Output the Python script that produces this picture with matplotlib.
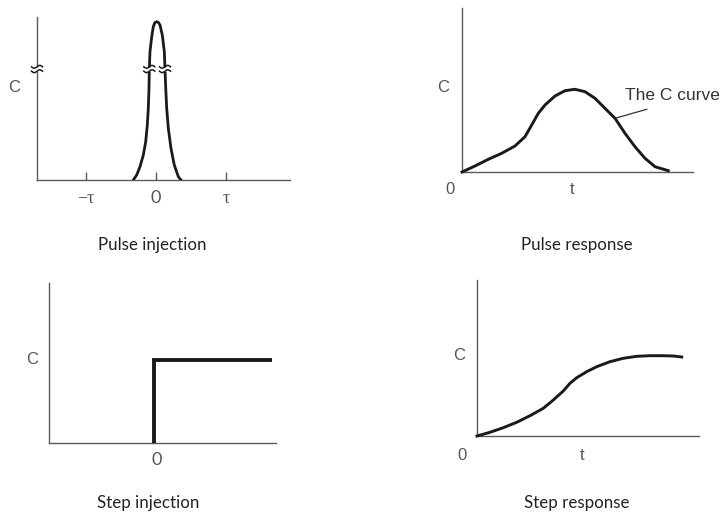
import numpy as np
import matplotlib
matplotlib.use("Agg")
import matplotlib.pyplot as plt
import matplotlib.transforms as mtransforms

# ---------------- data ----------------
# Pulse injection (x in units of tau, y arbitrary)
pulse_x = [-0.324, -0.276, -0.229, -0.181, -0.147, -0.124, -0.110, -0.100, -0.096, -0.086,
           -0.061, -0.039, -0.015, 0.010, 0.035, 0.057, 0.090, 0.119, 0.129, 0.139,
           0.153, 0.176, 0.214, 0.261, 0.319, 0.357]
pulse_y = [0, 5, 13.3, 25, 38.3, 55, 71.7, 91.7, 110, 128.3,
           143.3, 153.3, 157.5, 158.3, 157.5, 155, 145, 128.3, 110, 91.7,
           71.7, 51.7, 31.7, 15, 3.3, 0]
pulse_ticks = [-1, 0, 1]
pulse_ticklabels = ["\u2212\u03c4", "0", "\u03c4"]

# Pulse response (C curve)
presp_x = [0, 13, 26.3, 39.7, 53, 63, 69.7, 76.3, 83, 93, 103, 113, 123, 133, 143, 153,
           163, 173, 183, 193, 206.3]
presp_y = [0, 6, 12.7, 18.7, 26, 35.3, 47, 58.7, 67, 76, 81.3, 82.7, 80.3, 73.7, 63.7, 53.7,
           38.7, 25.3, 13.7, 5.3, 1.3]

# Step injection
step_x = [0, 0, 118]
step_y = [0, 83, 83]

# Step response
sresp_x = [0, 13, 26.3, 39.7, 53, 66.3, 76.3, 86.3, 93, 99.7, 109.7, 119.7, 133, 146.3,
           159.7, 173, 186.3, 196.3, 204.7]
sresp_y = [0, 3.7, 8.3, 13.7, 20.3, 27.7, 36, 45, 52.7, 58.3, 64.3, 69.3, 74.3, 77.7,
           79.7, 80.3, 80.3, 80, 79]

titles = ["Pulse injection", "Pulse response", "Step injection", "Step response"]

# ---------------- figure ----------------
W, H = 726, 518
fig = plt.figure(figsize=(W / 100, H / 100), dpi=100)

AX_COLOR = "#5a5a5a"
TXT_COLOR = "#555555"
CURVE = "#1a1a1a"
TITLE_FONT = "Lato"
LABEL_FONT = "Liberation Sans"
TITLE_SIZE = 12.2


def make_ax(px0, py_top, px1, py_bot, xlim, ylim):
    ax = fig.add_axes([px0 / W, 1 - py_bot / H, (px1 - px0) / W, (py_bot - py_top) / H])
    ax.set_xlim(*xlim)
    ax.set_ylim(*ylim)
    for s in ["top", "right"]:
        ax.spines[s].set_visible(False)
    for s in ["left", "bottom"]:
        ax.spines[s].set_color(AX_COLOR)
        ax.spines[s].set_linewidth(1.0)
    ax.set_xticks([])
    ax.set_yticks([])
    ax.patch.set_alpha(0)
    return ax


def ftext(px, py, s, **kw):
    fig.text(px / W, 1 - py / H, s, ha="center", va="center", **kw)


def break_mark(ax, x, y, halfw=5.5, amp=1.4, gap=2.2, lw=1.1):
    """Draw a '≈' style break centred on data point (x, y); sizes in pixels."""
    trans = fig.dpi_scale_trans + mtransforms.ScaledTranslation(x, y, ax.transData)
    d = 1 / fig.dpi
    ax.plot([0, 0], [-gap * d, gap * d], color="white", lw=3.5, transform=trans,
            zorder=5, solid_capstyle="butt", clip_on=False)
    t = np.linspace(-1, 1, 40)
    for off in (-gap, gap):
        ax.plot(t * halfw * d, (np.sin(np.pi * t) * amp + off) * d, color=CURVE, lw=lw,
                transform=trans, zorder=6, clip_on=False)


# ---- Panel 1: Pulse injection ----
X0, SC = 156, 70.0
ax1 = make_ax(37, 17, 290, 180, ((37 - X0) / SC, (290 - X0) / SC), (0, 163))
ax1.plot(pulse_x, pulse_y, color=CURVE, lw=2.0, solid_joinstyle="round", zorder=3)
ax1.set_xticks(pulse_ticks)
ax1.set_xticklabels(pulse_ticklabels)
ax1.tick_params(axis="x", direction="in", length=6, width=1.0, color=AX_COLOR,
                labelcolor=TXT_COLOR, labelsize=13, pad=7)
for lab in ax1.get_xticklabels():
    lab.set_family("Liberation Serif" if lab.get_text() != "0" else "Lato")
yb = 111
break_mark(ax1, (37 - X0) / SC, yb)
n_half = int(np.argmax(pulse_y))
xl = np.interp(yb, pulse_y[:n_half + 1], pulse_x[:n_half + 1])
xr = np.interp(yb, pulse_y[n_half:][::-1], pulse_x[n_half:][::-1])
break_mark(ax1, xl, yb)
break_mark(ax1, xr, yb)
ftext(14, 87, "C", fontsize=12, color=TXT_COLOR, family=LABEL_FONT)
ftext(152, 245, titles[0], fontsize=TITLE_SIZE, color="#222222", family=TITLE_FONT)

# ---- Panel 2: Pulse response ----
ax2 = make_ax(462, 8, 693, 172, (0, 231), (0, 164))
ax2.plot(presp_x, presp_y, color=CURVE, lw=2.1, solid_joinstyle="round", zorder=3,
         clip_on=False)
ax2.plot([153, 184.7], [53.7, 62.7], color="#333333", lw=0.9, zorder=2)
ax2.text(163, 77, "The C curve", fontsize=12.5, color="#333333", family=LABEL_FONT,
         ha="left", va="center", clip_on=False)
ftext(443, 87, "C", fontsize=12, color=TXT_COLOR, family=LABEL_FONT)
ftext(450, 189, "0", fontsize=12, color=TXT_COLOR, family=LABEL_FONT)
ftext(572, 189, "t", fontsize=12, color=TXT_COLOR, family=LABEL_FONT)
ftext(577, 245, titles[1], fontsize=TITLE_SIZE, color="#222222", family=TITLE_FONT)

# ---- Panel 3: Step injection ----
ax3 = make_ax(49, 283, 276, 443, (-105, 122), (0, 160))
ax3.plot(step_x, step_y, color=CURVE, lw=2.8, solid_joinstyle="miter",
         solid_capstyle="butt", zorder=3)
ftext(32, 360, "C", fontsize=12, color=TXT_COLOR, family=LABEL_FONT)
ftext(157, 460, "0", fontsize=13, color=TXT_COLOR, family="Lato")
ftext(148, 503, titles[2], fontsize=TITLE_SIZE, color="#222222", family=TITLE_FONT)

# ---- Panel 4: Step response ----
ax4 = make_ax(477, 280, 699, 436, (0, 222), (0, 156))
ax4.plot(sresp_x, sresp_y, color=CURVE, lw=2.1, solid_joinstyle="round", zorder=3,
         clip_on=False)
ftext(459, 356, "C", fontsize=12, color=TXT_COLOR, family=LABEL_FONT)
ftext(462, 455, "0", fontsize=12, color=TXT_COLOR, family=LABEL_FONT)
ftext(582, 455, "t", fontsize=12, color=TXT_COLOR, family=LABEL_FONT)
ftext(577, 503, titles[3], fontsize=TITLE_SIZE, color="#222222", family=TITLE_FONT)

fig.savefig("out.png", dpi=100, facecolor="white")
